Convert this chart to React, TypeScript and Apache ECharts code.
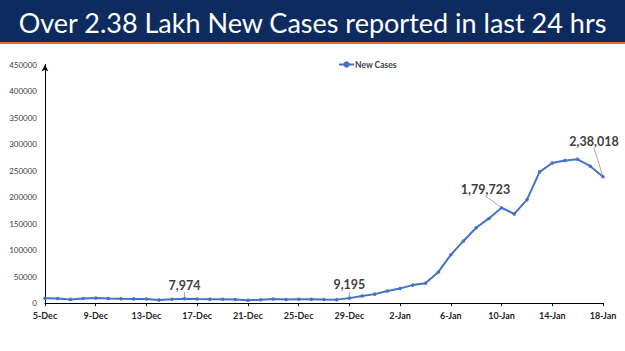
import React, { useEffect, useRef } from "react";
import * as echarts from "echarts";

const dates = [
  "5-Dec","6-Dec","7-Dec","8-Dec","9-Dec","10-Dec","11-Dec","12-Dec","13-Dec","14-Dec",
  "15-Dec","16-Dec","17-Dec","18-Dec","19-Dec","20-Dec","21-Dec","22-Dec","23-Dec","24-Dec",
  "25-Dec","26-Dec","27-Dec","28-Dec","29-Dec","30-Dec","31-Dec","1-Jan","2-Jan","3-Jan",
  "4-Jan","5-Jan","6-Jan","7-Jan","8-Jan","9-Jan","10-Jan","11-Jan","12-Jan","13-Jan",
  "14-Jan","15-Jan","16-Jan","17-Jan","18-Jan",
];

const newCases = [
  8895, 8306, 6822, 8439, 9419, 8503, 7992, 7774, 7350, 5784,
  6984, 7974, 7447, 7145, 7081, 6563, 5326, 6317, 7495, 6650,
  7189, 6987, 6531, 6358, 9195, 13154, 16764, 22775, 27553, 33750,
  37379, 58097, 90928, 117100, 141986, 159632, 179723, 168063, 194720, 247417,
  264202, 268833, 271202, 258089, 238018,
];

const annotatedDates = ["16-Dec", "29-Dec", "10-Jan", "18-Jan"];
const annotationText = ["7,974", "9,195", "1,79,723", "2,38,018"];

const yTicks = { min: 0, max: 450000, interval: 50000 };

export default function App() {
  const ref = useRef<HTMLDivElement>(null);
  useEffect(() => {
    document.body.style.margin = "0";
    const chart = echarts.init(ref.current!, null, { renderer: "svg" });
    const offsets: Record<string, [number, number]> = {
      "16-Dec": [0, 0],
      "29-Dec": [0, 0],
      "10-Jan": [-16, -5],
      "18-Jan": [-9, -22],
    };
    const seriesData = newCases.map((v, i) => {
      const k = annotatedDates.indexOf(dates[i]);
      if (k < 0) return v;
      return {
        value: v,
        label: {
          show: true,
          position: "top",
          distance: 5,
          formatter: annotationText[k],
          fontFamily: "Lato",
          fontWeight: "bold",
          fontSize: 12.5,
          color: "#404040",
        },
      };
    });
    chart.setOption({
      animation: false,
      backgroundColor: "#ffffff",
      title: {
        text: "Over 2.38 Lakh New Cases reported in last 24 hrs",
        left: "center",
        top: 4,
        textStyle: {
          color: "#ffffff",
          fontFamily: "Lato",
          fontWeight: "normal",
          fontSize: 27,
        },
      },
      graphic: [
        { type: "rect", z: 0, shape: { x: 0, y: 0, width: 625, height: 42 }, style: { fill: "#0d2b5f" } },
        { type: "rect", z: 0, shape: { x: 0, y: 42, width: 625, height: 2 }, style: { fill: "#e0703c" } },
      ],
      legend: {
        left: 333,
        top: 55,
        itemWidth: 15,
        itemHeight: 8,
        itemGap: 4,
        textStyle: { fontFamily: "Lato", fontSize: 8.5, fontWeight: "bold", color: "#404040", padding: [0, 0, 0, -4] },
        data: ["New Cases"],
      },
      grid: { left: 45, right: 22, top: 64.5, bottom: 48 },
      xAxis: {
        type: "category",
        data: dates,
        boundaryGap: false,
        axisLine: { lineStyle: { color: "#000000", width: 1 } },
        axisTick: { interval: 3, length: 3, lineStyle: { color: "#000000" } },
        axisLabel: {
          interval: 3,
          fontFamily: "Lato",
          fontWeight: "bold",
          fontSize: 9,
          color: "#262626",
          margin: 8,
        },
      },
      yAxis: {
        type: "value",
        min: yTicks.min,
        max: yTicks.max,
        interval: yTicks.interval,
        splitLine: { show: false },
        axisTick: { show: false },
        axisLine: {
          show: true,
          symbol: ["none", "arrow"],
          symbolSize: [5, 7],
          lineStyle: { color: "#000000", width: 1 },
        },
        axisLabel: {
          fontFamily: "Lato",
          fontSize: 8,
          color: "#404040",
          margin: 8,
          formatter: (v: number) => String(v),
        },
      },
      series: [
        {
          name: "New Cases",
          type: "line",
          data: seriesData,
          symbol: "circle",
          symbolSize: 3.5,
          lineStyle: { color: "#4472C4", width: 2 },
          itemStyle: { color: "#4472C4" },
          labelLine: { show: true, lineStyle: { color: "#a6a6a6", width: 1 } },
          labelLayout: (params: any) => {
            const name = dates[params.dataIndex];
            const o = offsets[name];
            if (!o) return {};
            return { dx: o[0], dy: o[1] };
          },
        },
      ],
    });
    return () => chart.dispose();
  }, []);
  return <div ref={ref} style={{ width: 625, height: 351 }} />;
}
